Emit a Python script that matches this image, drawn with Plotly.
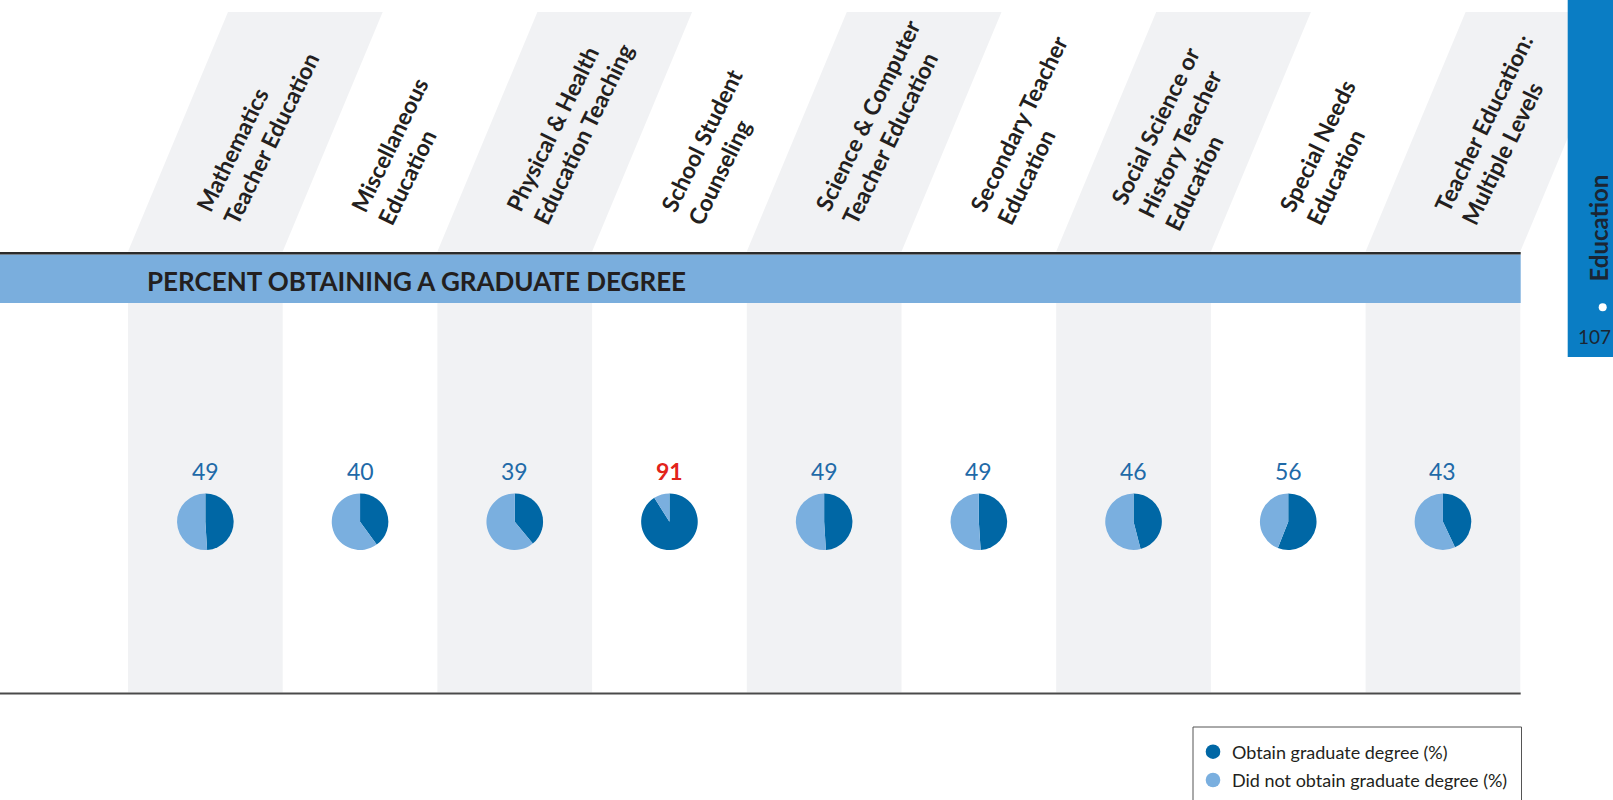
import math
import plotly.graph_objects as go

W, H = 1613, 800

categories = [
    "Mathematics<br>Teacher Education",
    "Miscellaneous<br>Education",
    "Physical & Health<br>Education Teaching",
    "School Student<br>Counseling",
    "Science & Computer<br>Teacher Education",
    "Secondary Teacher<br>Education",
    "Social Science or<br>History Teacher<br>Education",
    "Special Needs<br>Education",
    "Teacher Education:<br>Multiple Levels",
]
obtain_pct = [49, 40, 39, 91, 49, 49, 46, 56, 43]
highlight = [False, False, False, True, False, False, False, False, False]
series_names = ["Obtain graduate degree (%)", "Did not obtain graduate degree (%)"]
banner_title = "PERCENT OBTAINING A GRADUATE DEGREE"

DARK = "#0067a5"
LIGHT = "#7aafdf"
GREY = "#f1f2f4"
TXT = "#231f20"

# layout geometry (pixels)
X0, CW = 128.0, 154.7
HDR_TOP, HDR_BOT, SLANT = 12.0, 251.5, 100.0
LINE_Y = 253.3
BAN_TOP, BAN_BOT, BAN_R = 254.5, 303.0, 1520.7
COL_BOT = 692.5
PIE_CY, PIE_R = 521.7, 28.3
NUM_Y = 471.0

# header label placement: left-aligned rotated text, block centred on a fixed line
ANG = 64.0
FS = 23
th = math.radians(ANG)
LSP = 1.3 * FS
ASC = 1 + 0.987 * FS
START_DX, START_Y = 81.0, 216.0   # first-line start for a 2-line label

fig = go.Figure()
fig.add_trace(go.Scatter(x=[None], y=[None], showlegend=False, hoverinfo="skip"))

shapes = []
annotations = []
n = len(categories)
for i in range(n):
    xl = X0 + i * CW
    xr = xl + CW
    cx = xl + CW / 2
    if i % 2 == 0:
        shapes.append(dict(type="path", xref="x", yref="y", layer="below",
                           path=f"M {xl},{HDR_BOT} L {xr},{HDR_BOT} L {xr+SLANT},{HDR_TOP} L {xl+SLANT},{HDR_TOP} Z",
                           fillcolor=GREY, line=dict(width=0)))
        shapes.append(dict(type="rect", xref="x", yref="y", layer="below",
                           x0=xl, x1=xr, y0=BAN_BOT, y1=COL_BOT,
                           fillcolor=GREY, line=dict(width=0)))
    # header label
    nl = categories[i].count("<br>") + 1
    shift = (nl - 2) / 2 * LSP
    px = xl + START_DX - shift * math.sin(th)
    py = START_Y - shift * math.cos(th)
    hb = 2 + (nl - 1) * LSP + 1.2 * FS
    ax = px - ASC * math.sin(th)
    ay = py + (hb - ASC) * math.cos(th)
    annotations.append(dict(x=ax, y=ay, xref="x", yref="y",
                            text=categories[i], showarrow=False, textangle=-ANG,
                            align="left", xanchor="left", yanchor="bottom",
                            font=dict(family="Lato", size=FS, color=TXT, weight="bold")))
    # number label
    v = obtain_pct[i]
    if highlight[i]:
        f = dict(family="Lato", size=23, color="#e2231a", weight="bold")
    else:
        f = dict(family="Lato", size=23, color="#1f6aa8")
    annotations.append(dict(x=cx, y=NUM_Y, xref="x", yref="y", text=str(v),
                            showarrow=False, xanchor="center", yanchor="middle", font=f))
    # pie
    fig.add_trace(go.Pie(
        values=[v, 100 - v], labels=series_names, sort=False, direction="clockwise",
        rotation=0, textinfo="none", showlegend=False,
        marker=dict(colors=[DARK, LIGHT], line=dict(width=0)),
        domain=dict(x=[(cx - PIE_R) / W, (cx + PIE_R) / W],
                    y=[1 - (PIE_CY + PIE_R) / H, 1 - (PIE_CY - PIE_R) / H]),
        hovertemplate="%{label}: %{value}<extra></extra>",
    ))

# banner and rules
shapes.append(dict(type="rect", xref="x", yref="y", layer="below", x0=0, x1=BAN_R,
                   y0=BAN_TOP, y1=BAN_BOT, fillcolor="#7aaedd", line=dict(width=0)))
shapes.append(dict(type="line", xref="x", yref="y", layer="above", x0=0, x1=BAN_R,
                   y0=LINE_Y, y1=LINE_Y, line=dict(color="#2b2b2b", width=2.5)))
shapes.append(dict(type="line", xref="x", yref="y", layer="above", x0=0, x1=BAN_R,
                   y0=693.5, y1=693.5, line=dict(color="#4a4a4a", width=2)))
annotations.append(dict(x=145, y=281, xref="x", yref="y", text=banner_title, showarrow=False,
                        xanchor="left", yanchor="middle",
                        font=dict(family="Lato", size=26, color=TXT, weight="bold")))

# right tab
shapes.append(dict(type="rect", xref="x", yref="y", layer="above", x0=1567.7, x1=1620,
                   y0=-5, y1=357, fillcolor="#0a7dc4", line=dict(width=0)))
annotations.append(dict(x=1598, y=284, xref="x", yref="y", text="Education", showarrow=False,
                        textangle=-90, xanchor="center", yanchor="bottom",
                        font=dict(family="Lato", size=24, color="#1b2533", weight="bold")))
shapes.append(dict(type="circle", xref="x", yref="y", layer="above", x0=1598.7, x1=1606.7,
                   y0=303.3, y1=311.3, fillcolor="white", line=dict(width=0)))
annotations.append(dict(x=1612.5, y=336, xref="x", yref="y", text="107", showarrow=False,
                        xanchor="right", yanchor="middle",
                        font=dict(family="Lato", size=19, color="#1b2533")))

# legend
shapes.append(dict(type="rect", xref="x", yref="y", layer="above", x0=1193, x1=1521.5,
                   y0=727, y1=812, fillcolor="rgba(0,0,0,0)", line=dict(color="#555555", width=1)))
for k, (nm, col) in enumerate(zip(series_names, [DARK, LIGHT])):
    yy = 751.7 + k * 28.3
    shapes.append(dict(type="circle", xref="x", yref="y", layer="above",
                       x0=1213 - 7.3, x1=1213 + 7.3, y0=yy - 7.3, y1=yy + 7.3,
                       fillcolor=col, line=dict(width=0)))
    annotations.append(dict(x=1230, y=yy, xref="x", yref="y", text=nm, showarrow=False,
                            xanchor="left", yanchor="middle",
                            font=dict(family="Lato", size=18, color=TXT)))

fig.update_layout(
    width=W, height=H, margin=dict(l=0, r=0, t=0, b=0),
    paper_bgcolor="white", plot_bgcolor="white",
    xaxis=dict(range=[0, W], visible=False, fixedrange=True),
    yaxis=dict(range=[H, 0], visible=False, fixedrange=True),
    shapes=shapes, annotations=annotations, showlegend=False,
)

fig.write_html("out.html", config={"displayModeBar": False},
               post_script="document.body.style.margin='0px';")
